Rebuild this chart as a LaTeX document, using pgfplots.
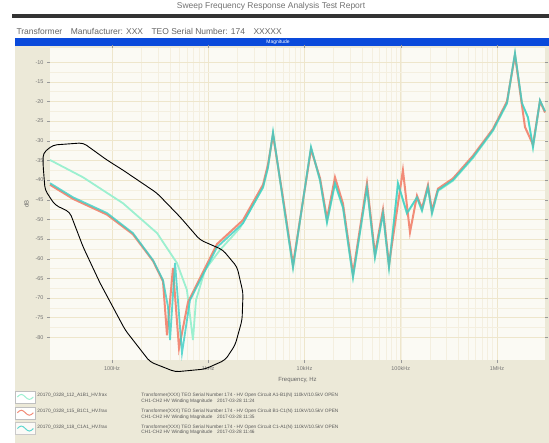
\documentclass[border=0pt]{standalone}
\usepackage{fontspec}
\setmainfont{Liberation Sans}
\usepackage{pgfplots}
\pgfplotsset{compat=1.18}

\definecolor{xpbeige}{HTML}{ECE9D8}
\definecolor{xpblue}{HTML}{0A4ADB}
\definecolor{plotbg}{HTML}{FBFAF4}
\definecolor{gridmin}{HTML}{F4EFE0}
\definecolor{gridmaj}{HTML}{EEE6CC}
\definecolor{sfraMint}{HTML}{9CF0D0}
\definecolor{sfraRed}{HTML}{F28C78}
\definecolor{sfraCyan}{HTML}{38CFC6}

\begin{document}
\begin{tikzpicture}
% page furniture
\fill[white] (0bp,0bp) rectangle (549bp,-443bp);
\fill[xpbeige] (15bp,-38bp) rectangle (549bp,-443bp);
\node[font=\fontsize{8.5}{9}\selectfont, text=black!55] at (271bp,-6bp)
  {Sweep Frequency Response Analysis Test Report};
\fill[black!80] (12bp,-13.5bp) rectangle (549bp,-17.5bp);
\node[anchor=west, font=\fontsize{8.5}{9}\selectfont, text=black!60] at (13bp,-31.5bp)
  {Transformer\quad Manufacturer: XXX\quad TEO Serial Number: 174\quad XXXXX};
\fill[xpblue] (15bp,-38bp) rectangle (549bp,-46bp);
\node[font=\fontsize{5}{5}\selectfont, text=white] at (278bp,-42bp) {Magnitude};

\begin{axis}[
    at={(50bp,-360bp)}, anchor=south west,
    scale only axis, width=495bp, height=312bp,
    xmode=log, xmin=22.7, xmax=3.155e6,
    ymin=-85.8, ymax=-6.4,
    ytick={-80,-75,...,-10},
    minor y tick num=1,
    xtick={100,1000,10000,100000,1000000},
    xticklabels={100Hz,1kHz,10kHz,100kHz,1MHz},
    grid=both,
    major grid style={gridmaj, line width=0.5pt},
    minor grid style={gridmin, line width=0.4pt},
    axis background/.style={fill=plotbg},
    axis line style={draw=none},
    tick align=outside,
    major tick style={black!40},
    major tick length=3bp, minor tick length=0pt,
    tick label style={font=\fontsize{5.5}{6}\selectfont, text=black!55},
    /pgf/number format/assume math mode=true,
    xlabel={Frequency, Hz},
    ylabel={dB},
    label style={font=\fontsize{6}{7}\selectfont, text=black!60},
    clip=false,
    legend style={at={(rel axis cs:-0.0707,-0.098)}, anchor=north west,
        draw=none, fill=none, font=\fontsize{4.8}{5.6}\selectfont, text=black!65,
        row sep=3.5bp, inner sep=0pt},
    legend cell align=left,
    legend image code/.code={
        \draw[black!25, fill=white, line width=0.3pt] (0bp,-6bp) rectangle (20bp,6bp);
        \draw[#1, line width=1pt] (2bp,0bp) sin (6bp,2.5bp) cos (10bp,0bp) sin (14bp,-2.5bp) cos (18bp,0bp);
    },
]

% reference trace
\addplot[sfraMint, line width=1.8bp] coordinates {
    (22.7,-34.9) (50,-39.3) (130,-45.9) (294,-53.5) (473,-61.1) (601,-68.0)
    (694,-80.7) (746,-70.6) (925,-62.9) (1324,-57.8) (2137,-52.2) (3707,-42.0)
    (4178,-36.9) (4710,-28.0) (5983,-45.3) (7601,-62.4) (11690,-31.8) (14500,-40.2)
    (17130,-50.9) (20750,-41.0) (25120,-47.1) (31920,-64.9) (44590,-42.0) (53980,-59.8)
    (65430,-48.6) (75530,-62.4) (93600,-41.0) (116100,-48.6) (147500,-44.6) (166300,-47.9)
    (191900,-42.0) (211300,-48.6) (243800,-42.8) (349000,-40.2) (563500,-34.4) (908300,-27.5)
    (1270000,-20.6) (1538000,-7.9) (1818000,-20.6) (2099000,-24.2) (2366000,-31.8)
    (2797000,-19.9) (3155000,-22.7)
};
\addlegendentry{\begin{tabular}{@{}p{104bp}@{}l@{}}20170\_0328\_112\_A1B1\_HV.frax &
    Transformer(XXX) TEO Serial Number 174 - HV Open Circuit A1-B1(N) 110kV/10.5kV OPEN\\
    & CH1-CH2 HV Winding Magnitude\quad 2017-03-28 11:24\end{tabular}}

\addplot[sfraRed, line width=2bp] coordinates {
    (22.7,-41.2) (39.4,-44.8) (88.7,-48.8) (165,-53.8) (267,-60.6) (339,-65.8)
    (373,-79.5) (430,-62.4) (497,-82.8) (616,-71.1) (1233,-56.3) (2297,-50.2)
    (3707,-41.2) (4178,-36.0) (4710,-28.5) (5983,-44.5) (7601,-61.5) (11690,-32.2)
    (14500,-39.5) (17130,-49.8) (20750,-39.3) (25120,-46.0) (31920,-63.8) (44590,-40.8)
    (53980,-58.8) (65430,-47.5) (75530,-61.5) (105400,-37.5) (124800,-53.3) (147500,-44.0)
    (166300,-47.2) (191900,-41.3) (211300,-47.8) (243800,-42.2) (349000,-39.6) (563500,-33.8)
    (908300,-27.0) (1270000,-20.0) (1538000,-8.2) (1818000,-21.0) (1954000,-26.5)
    (2366000,-31.0) (2797000,-19.9) (3155000,-22.8)
};
\addlegendentry{\begin{tabular}{@{}p{104bp}@{}l@{}}20170\_0328\_115\_B1C1\_HV.frax &
    Transformer(XXX) TEO Serial Number 174 - HV Open Circuit B1-C1(N) 110kV/10.5kV OPEN\\
    & CH1-CH2 HV Winding Magnitude\quad 2017-03-28 11:35\end{tabular}}

\addplot[sfraCyan, line width=1.8bp, opacity=0.8] coordinates {
    (22.7,-40.8) (39.4,-44.4) (88.7,-48.4) (165,-53.5) (267,-60.4) (339,-65.5)
    (382,-72.3) (401,-80.7) (452,-61.1) (534,-84.0) (646,-70.6) (1233,-57.1)
    (2297,-51.0) (3707,-41.8) (4178,-36.7) (4710,-27.8) (5983,-45.1) (7601,-62.2)
    (11690,-31.6) (14500,-40.0) (17130,-50.7) (20750,-40.8) (25120,-46.9) (31920,-64.7)
    (44590,-41.8) (53980,-59.6) (65430,-48.4) (75530,-62.2) (93600,-40.8) (116100,-48.4)
    (147500,-44.4) (166300,-47.7) (191900,-41.8) (211300,-48.4) (243800,-42.6) (349000,-40.0)
    (563500,-34.2) (908300,-27.3) (1270000,-20.4) (1538000,-7.7) (1818000,-20.4)
    (2099000,-24.0) (2366000,-31.6) (2797000,-19.7) (3155000,-22.5)
};
\addlegendentry{\begin{tabular}{@{}p{104bp}@{}l@{}}20170\_0328\_118\_C1A1\_HV.frax &
    Transformer(XXX) TEO Serial Number 174 - HV Open Circuit C1-A1(N) 110kV/10.5kV OPEN\\
    & CH1-CH2 HV Winding Magnitude\quad 2017-03-28 11:46\end{tabular}}

% hand-drawn mark round the low-frequency region
\draw[black, line width=0.9pt, rounded corners=4bp]
    (rel axis cs:-0.014,0.663) -- (rel axis cs:0.006,0.689) -- (rel axis cs:0.067,0.696)
 -- (rel axis cs:0.115,0.641) -- (rel axis cs:0.147,0.609) -- (rel axis cs:0.216,0.535)
 -- (rel axis cs:0.263,0.458) -- (rel axis cs:0.303,0.385) -- (rel axis cs:0.349,0.353)
 -- (rel axis cs:0.378,0.298) -- (rel axis cs:0.390,0.215) -- (rel axis cs:0.388,0.128)
 -- (rel axis cs:0.374,0.048) -- (rel axis cs:0.354,0.000) -- (rel axis cs:0.313,-0.029)
 -- (rel axis cs:0.253,-0.038) -- (rel axis cs:0.202,-0.006) -- (rel axis cs:0.152,0.096)
 -- (rel axis cs:0.101,0.247) -- (rel axis cs:0.067,0.362) -- (rel axis cs:0.040,0.474)
 -- (rel axis cs:0.010,0.497) -- (rel axis cs:-0.010,0.545) -- (rel axis cs:-0.014,0.625)
 -- cycle;
\end{axis}

\pgfresetboundingbox
\useasboundingbox (0bp,0bp) rectangle (549bp,-443bp);
\end{tikzpicture}
\end{document}
